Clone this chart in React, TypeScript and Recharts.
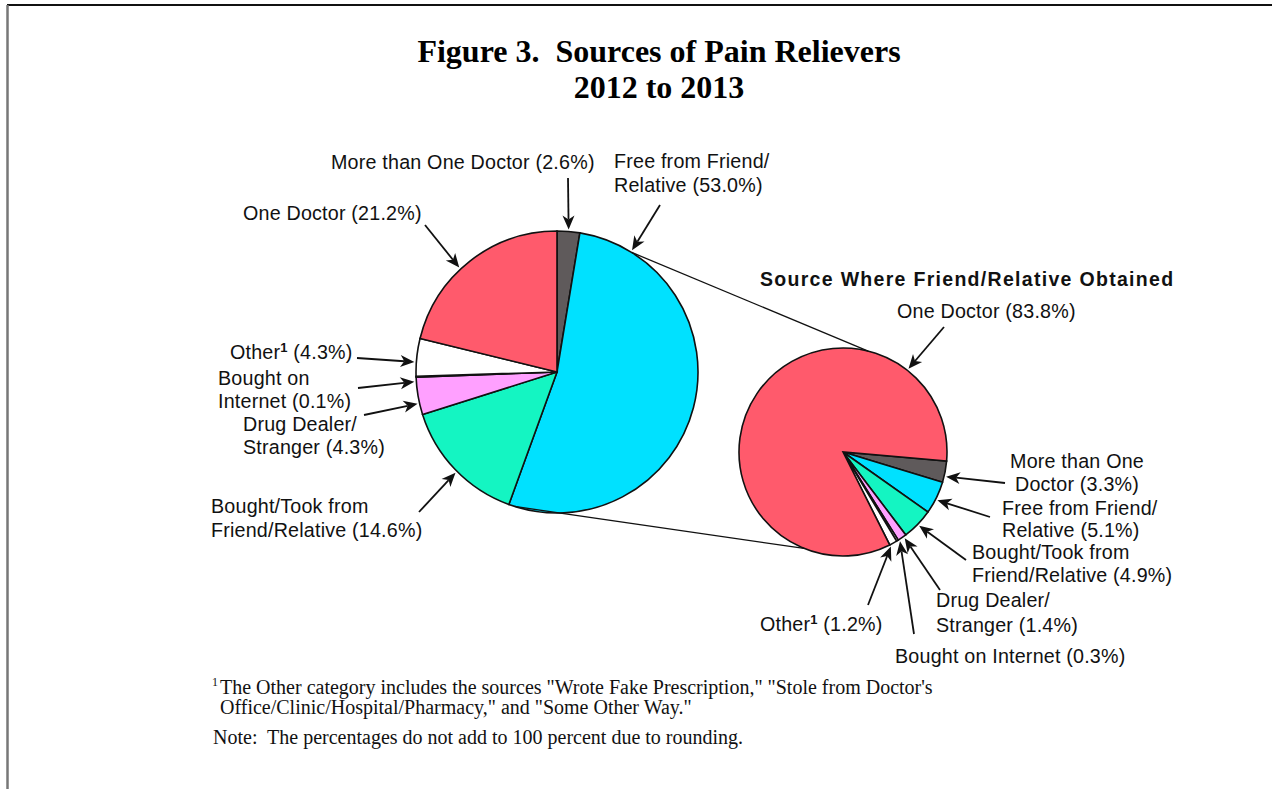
import React from "react";
import { PieChart, Pie, Cell } from "recharts";

// ---------- DATA ----------
const mainCategories = [
  "More than One Doctor",
  "Free from Friend/Relative",
  "Bought/Took from Friend/Relative",
  "Drug Dealer/Stranger",
  "Bought on Internet",
  "Other",
  "One Doctor",
];
const mainValues = [2.6, 53.0, 14.6, 4.3, 0.1, 4.3, 21.2];

const friendCategories = [
  "More than One Doctor",
  "Free from Friend/Relative",
  "Bought/Took from Friend/Relative",
  "Drug Dealer/Stranger",
  "Bought on Internet",
  "Other",
  "One Doctor",
];
const friendValues = [3.3, 5.1, 4.9, 1.4, 0.3, 1.2, 83.8];

// label text lines (value is appended to the last line)
const mainLabelLines = [
  ["More than One Doctor"],
  ["Free from Friend/", "Relative"],
  ["Bought/Took from", "Friend/Relative"],
  ["Drug Dealer/", "Stranger"],
  ["Bought on", "Internet"],
  ["Other"],
  ["One Doctor"],
];
const friendLabelLines = [
  ["More than One", "Doctor"],
  ["Free from Friend/", "Relative"],
  ["Bought/Took from", "Friend/Relative"],
  ["Drug Dealer/", "Stranger"],
  ["Bought on Internet"],
  ["Other"],
  ["One Doctor"],
];

const titleLines = ["Figure 3.  Sources of Pain Relievers", "2012 to 2013"];
const subTitle = "Source Where Friend/Relative Obtained";
const footnoteLines = [
  "The Other category includes the sources \"Wrote Fake Prescription,\" \"Stole from Doctor's",
  "Office/Clinic/Hospital/Pharmacy,\" and \"Some Other Way.\"",
];
const noteText = "Note:  The percentages do not add to 100 percent due to rounding.";

// ---------- STYLE / LAYOUT ----------
const sliceColors: Record<string, string> = {
  "More than One Doctor": "#5f5a5b",
  "Free from Friend/Relative": "#00e1ff",
  "Bought/Took from Friend/Relative": "#14f5c2",
  "Drug Dealer/Stranger": "#ffa0ff",
  "Bought on Internet": "#f4f0ff",
  Other: "#ffffff",
  "One Doctor": "#ff5a6c",
};

const W = 1272;
const H = 789;
const MAIN = { cx: 557, cy: 372, r: 141, start: 90 };
const SUB = { cx: 843, cy: 452, r: 104, start: -5 };

const SANS = "'Liberation Sans', Arial, Helvetica, sans-serif";
const SERIF = "'Liberation Serif', 'Times New Roman', Times, serif";
const LABEL_SIZE = 19.7;
const LABEL_SPACING = 0.2;

type LabelLayout = {
  x: number;
  y: number;
  lh: number;
  anchor: "start" | "middle" | "end";
  tail: [number, number];
  tipOffset: number;
};

const mainLayout: LabelLayout[] = [
  { x: 331, y: 169, lh: 24, anchor: "start", tail: [568, 178], tipOffset: 0 },
  { x: 614, y: 168, lh: 24, anchor: "start", tail: [660, 205], tipOffset: 73 },
  { x: 211, y: 513, lh: 24, anchor: "start", tail: [419, 512], tipOffset: 1 },
  { x: 243, y: 431, lh: 23, anchor: "start", tail: [364, 415], tipOffset: 3 },
  { x: 218, y: 385, lh: 23, anchor: "start", tail: [358, 388], tipOffset: 2 },
  { x: 230, y: 359, lh: 23, anchor: "start", tail: [357, 358], tipOffset: 2 },
  { x: 243, y: 220, lh: 23, anchor: "start", tail: [425, 225], tipOffset: 5 },
];
const friendLayout: LabelLayout[] = [
  { x: 1077, y: 468, lh: 23, anchor: "middle", tail: [1005, 483], tipOffset: -2.5 },
  { x: 1002, y: 515, lh: 22, anchor: "start", tail: [990, 517], tipOffset: -1 },
  { x: 972, y: 559, lh: 23, anchor: "start", tail: [966, 560], tipOffset: 0 },
  { x: 936, y: 607, lh: 25, anchor: "start", tail: [940, 590], tipOffset: 1 },
  { x: 895, y: 663, lh: 23, anchor: "start", tail: [914, 634], tipOffset: 1 },
  { x: 760, y: 631, lh: 23, anchor: "start", tail: [868, 605], tipOffset: -2 },
  { x: 897, y: 318, lh: 23, anchor: "start", tail: [944, 327], tipOffset: -94 },
];

const RAD = Math.PI / 180;
const polar = (cx: number, cy: number, r: number, angle: number): [number, number] => [
  cx + r * Math.cos(-angle * RAD),
  cy + r * Math.sin(-angle * RAD),
];

const mainData = mainCategories.map((name, i) => ({ name, value: mainValues[i] }));
const friendData = friendCategories.map((name, i) => ({ name, value: friendValues[i] }));

function Arrow({ from, to }: { from: [number, number]; to: [number, number] }) {
  const [x1, y1] = from;
  const [x2, y2] = to;
  const dx = x2 - x1;
  const dy = y2 - y1;
  const len = Math.hypot(dx, dy) || 1;
  const ux = dx / len;
  const uy = dy / len;
  const px = -uy;
  const py = ux;
  const hl = 14;
  const hw = 6;
  const bx = x2 - ux * hl;
  const by = y2 - uy * hl;
  const nx = x2 - ux * hl * 0.72;
  const ny = y2 - uy * hl * 0.72;
  return (
    <g>
      <line x1={x1} y1={y1} x2={nx} y2={ny} stroke="#111" strokeWidth={1.8} />
      <polygon
        points={`${x2},${y2} ${bx + px * hw},${by + py * hw} ${nx},${ny} ${bx - px * hw},${by - py * hw}`}
        fill="#111"
      />
    </g>
  );
}

const makeLabel =
  (linesArr: string[][], values: number[], names: string[], layout: LabelLayout[]) =>
  (props: any) => {
    const { cx, cy, midAngle, outerRadius, index } = props;
    const L = layout[index];
    const tip = polar(Number(cx), Number(cy), Number(outerRadius) + 2, midAngle + L.tipOffset);
    const lines = linesArr[index];
    const pct = ` (${values[index].toFixed(1)}%)`;
    const isOther = names[index] === "Other";
    return (
      <g key={`lbl-${index}`}>
        <Arrow from={L.tail} to={tip} />
        {lines.map((ln, j) => {
          const last = j === lines.length - 1;
          return (
            <text
              key={j}
              x={L.x}
              y={L.y + j * L.lh}
              textAnchor={L.anchor}
              fontFamily={SANS}
              fontSize={LABEL_SIZE}
              letterSpacing={LABEL_SPACING}
              fill="#111"
              style={{ whiteSpace: "pre" }}
            >
              {isOther && last ? (
                <>
                  {ln}
                  <tspan fontSize={13} fontWeight="bold" dy={-7}>
                    1
                  </tspan>
                  <tspan dy={7}>{pct}</tspan>
                </>
              ) : (
                ln + (last ? pct : "")
              )}
            </text>
          );
        })}
      </g>
    );
  };

const mainLabel = makeLabel(mainLabelLines, mainValues, mainCategories, mainLayout);
const friendLabel = makeLabel(friendLabelLines, friendValues, friendCategories, friendLayout);

// connector lines between the two pies (angles on each circle)
const connectors: [number, number][] = [
  [58, 76],
  [-107.5, -112],
];

export default function App() {
  return (
    <div
      style={{
        position: "absolute",
        left: 0,
        top: 0,
        width: W,
        height: H,
        background: "#fff",
        overflow: "hidden",
      }}
    >
      <PieChart width={W} height={H} margin={{ top: 0, right: 0, bottom: 0, left: 0 }}>
        <Pie
          data={mainData}
          dataKey="value"
          nameKey="name"
          cx={MAIN.cx}
          cy={MAIN.cy}
          outerRadius={MAIN.r}
          startAngle={MAIN.start}
          endAngle={MAIN.start - 360}
          stroke="#111"
          strokeWidth={1.6}
          isAnimationActive={false}
          label={mainLabel}
          labelLine={false}
        >
          {mainData.map((d) => (
            <Cell key={d.name} fill={sliceColors[d.name]} />
          ))}
        </Pie>
        <Pie
          data={friendData}
          dataKey="value"
          nameKey="name"
          cx={SUB.cx}
          cy={SUB.cy}
          outerRadius={SUB.r}
          startAngle={SUB.start}
          endAngle={SUB.start - 360}
          stroke="#111"
          strokeWidth={1.6}
          isAnimationActive={false}
          label={friendLabel}
          labelLine={false}
        >
          {friendData.map((d) => (
            <Cell key={d.name} fill={sliceColors[d.name]} />
          ))}
        </Pie>
      </PieChart>
      <svg
        width={W}
        height={H}
        style={{ position: "absolute", left: 0, top: 0, pointerEvents: "none" }}
      >
        {/* frame */}
        <line x1={7} y1={5} x2={W} y2={5} stroke="#111" strokeWidth={2} />
        <line x1={7.5} y1={5} x2={7.5} y2={H} stroke="#777" strokeWidth={2.5} />
        {/* title */}
        {titleLines.map((t, i) => (
          <text
            key={t}
            x={659}
            y={62 + i * 36}
            textAnchor="middle"
            fontFamily={SERIF}
            fontWeight="bold"
            fontSize={32}
            fill="#000"
            style={{ whiteSpace: "pre" }}
          >
            {t}
          </text>
        ))}
        {/* connectors */}
        {connectors.map(([a1, a2], i) => {
          const p1 = polar(MAIN.cx, MAIN.cy, MAIN.r, a1);
          const p2 = polar(SUB.cx, SUB.cy, SUB.r, a2);
          return (
            <line key={i} x1={p1[0]} y1={p1[1]} x2={p2[0]} y2={p2[1]} stroke="#111" strokeWidth={1.3} />
          );
        })}
        {/* subtitle */}
        <text
          x={760}
          y={286}
          fontFamily={SANS}
          fontWeight="bold"
          fontSize={19.5}
          letterSpacing={1.3}
          fill="#111"
        >
          {subTitle}
        </text>
        {/* footnotes */}
        <text x={212} y={686} fontFamily={SERIF} fontSize={12} fill="#111">
          1
        </text>
        {footnoteLines.map((t, i) => (
          <text
            key={i}
            x={220}
            y={694 + i * 20}
            fontFamily={SERIF}
            fontSize={20}
            fill="#111"
            style={{ whiteSpace: "pre" }}
          >
            {t}
          </text>
        ))}
        <text
          x={213}
          y={744}
          fontFamily={SERIF}
          fontSize={20}
          fill="#111"
          style={{ whiteSpace: "pre" }}
        >
          {noteText}
        </text>
      </svg>
    </div>
  );
}
